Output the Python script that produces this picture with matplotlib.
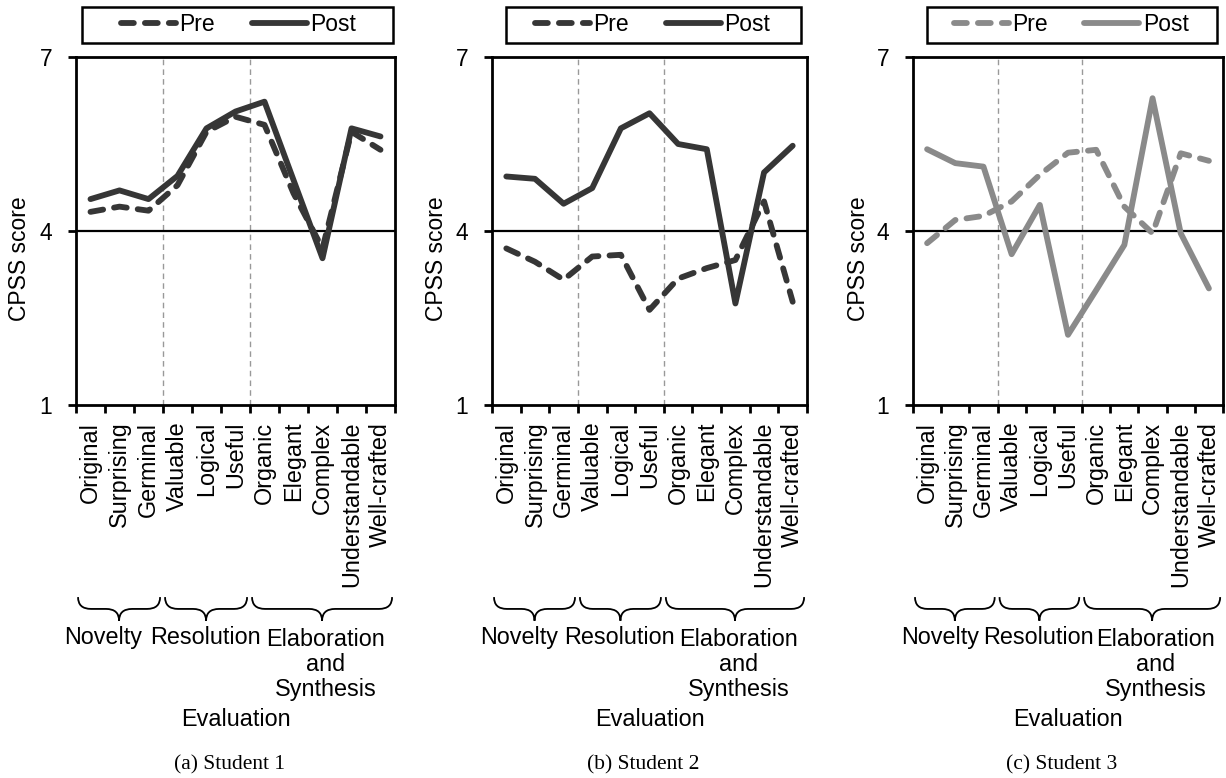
import numpy as np
import matplotlib
matplotlib.use("Agg")
import matplotlib.pyplot as plt
from matplotlib.path import Path
from matplotlib.patches import PathPatch, Rectangle
from matplotlib.transforms import blended_transform_factory

plt.rcParams['font.family'] = ['Liberation Sans', 'DejaVu Sans']

criteria = ["Original", "Surprising", "Germinal", "Valuable", "Logical", "Useful",
            "Organic", "Elegant", "Complex", "Understandable", "Well-crafted"]
groups = ["Novelty", "Resolution", "Elaboration\nand\nSynthesis"]
group_spans = [(0, 3), (3, 6), (6, 11)]

pre_1 = [4.33, 4.42, 4.35, 4.79, 5.71, 5.97, 5.83, 4.65, 3.70, 5.71, 5.40]
post_1 = [4.55, 4.70, 4.55, 4.95, 5.77, 6.06, 6.23, 4.88, 3.53, 5.77, 5.63]
pre_2 = [3.70, 3.47, 3.16, 3.56, 3.59, 2.64, 3.18, 3.36, 3.50, 4.51, 2.78]
post_2 = [4.94, 4.90, 4.47, 4.74, 5.77, 6.03, 5.50, 5.41, 2.75, 5.01, 5.47]
pre_3 = [3.79, 4.19, 4.26, 4.51, 4.97, 5.35, 5.40, 4.42, 3.96, 5.34, 5.21]
post_3 = [5.41, 5.17, 5.11, 3.60, 4.45, 2.21, 2.98, 3.76, 6.29, 3.96, 3.01]

captions = ["(a) Student 1", "(b) Student 2", "(c) Student 3"]
dark = "#363636"
light = "#8a8a8a"
panels = [(pre_1, post_1, dark), (pre_2, post_2, dark), (pre_3, post_3, light)]

# axes boxes in pixels: left, right
W, H = 1226, 778
boxes = [(76, 395), (492, 807), (913, 1223)]
top_px, bot_px = 57, 405


def brace(ax, x0, x1, ytop, h, r=0.45):
    xm = (x0 + x1) / 2
    verts = [(x0, ytop), (x0, ytop - h / 2), (x0 + r, ytop - h / 2),
             (xm - r, ytop - h / 2),
             (xm, ytop - h / 2), (xm, ytop - h),
             (xm, ytop - h / 2), (xm + r, ytop - h / 2),
             (x1 - r, ytop - h / 2),
             (x1, ytop - h / 2), (x1, ytop)]
    codes = [Path.MOVETO, Path.CURVE3, Path.CURVE3, Path.LINETO,
             Path.CURVE3, Path.CURVE3, Path.CURVE3, Path.CURVE3,
             Path.LINETO, Path.CURVE3, Path.CURVE3]
    tr = blended_transform_factory(ax.transData, ax.transAxes)
    ax.add_patch(PathPatch(Path(verts, codes), fill=False, lw=1.3,
                           edgecolor="black", transform=tr, clip_on=False))


fig = plt.figure(figsize=(W / 100, H / 100), dpi=100)
x = np.arange(len(criteria)) + 0.5

for k, ((pre, post, col), (l, r)) in enumerate(zip(panels, boxes)):
    ax = fig.add_axes([l / W, (H - bot_px) / H, (r - l) / W, (bot_px - top_px) / H])
    ax.plot(x, pre, color=col, lw=4.2, dashes=(2.2, 1.9), dash_capstyle="round",
            solid_joinstyle="round", label="Pre")
    ax.plot(x, post, color=col, lw=4.2, solid_capstyle="round",
            solid_joinstyle="round", label="Post")
    ax.axhline(4, color="black", lw=1.6, zorder=1)
    for b in (3, 6):
        ax.axvline(b, color="#999999", lw=1.0, ls=(0, (4, 3)), zorder=0)

    ax.set_xlim(0, 11)
    ax.set_ylim(1, 7)
    ax.set_yticks([1, 4, 7])
    ax.set_xticks(range(12))
    ax.set_xticklabels([])
    ax.set_xticks(x, minor=True)
    ax.set_xticklabels(criteria, minor=True, rotation=90, fontsize=16.8, va="top")
    ax.tick_params(axis="x", which="minor", length=0, pad=12)
    ax.tick_params(axis="x", which="major", length=6, width=2, direction="out")
    ax.tick_params(axis="y", length=6, width=2, direction="out", pad=11, labelsize=16.5)
    for s in ax.spines.values():
        s.set_linewidth(2)

    ax.set_ylabel("CPSS score", fontsize=16.5)
    ax.yaxis.set_label_coords(-0.14, 0.42)

    # legend box above axes
    ax.add_patch(Rectangle((0.02 + 0.025 * (k > 0), 1.040), 0.975 - 0.04 * (k > 0), 0.104,
                           transform=ax.transAxes, fill=False, lw=1.8,
                           edgecolor="black", clip_on=False))
    ax.legend(loc="center", bbox_to_anchor=(0.51, 1.092), ncol=2, frameon=False,
              fontsize=16.5, handlelength=2.4, handletextpad=0.15, columnspacing=1.6,
              borderaxespad=0)

    # braces and group names
    tr = blended_transform_factory(ax.transData, ax.transAxes)
    for (a, b) in group_spans:
        brace(ax, a + 0.07, b - 0.1, -0.552, 0.068)
    ax.text(0.95, -0.667, groups[0], transform=tr, ha="center", va="center", fontsize=16.8)
    ax.text(4.45, -0.667, groups[1], transform=tr, ha="center", va="center", fontsize=16.8)
    ax.text(8.6, -0.64, groups[2], transform=tr, ha="center", va="top", fontsize=16.8,
            linespacing=1.12)

    ax.text(0.5, -0.905, "Evaluation", transform=ax.transAxes, ha="center",
            va="center", fontsize=16.8)
    ax.text(0.48, -1.034, captions[k], transform=ax.transAxes, ha="center",
            va="center", fontsize=15.5, family=["Liberation Serif", "DejaVu Serif"])

fig.savefig("out.png", dpi=100)
